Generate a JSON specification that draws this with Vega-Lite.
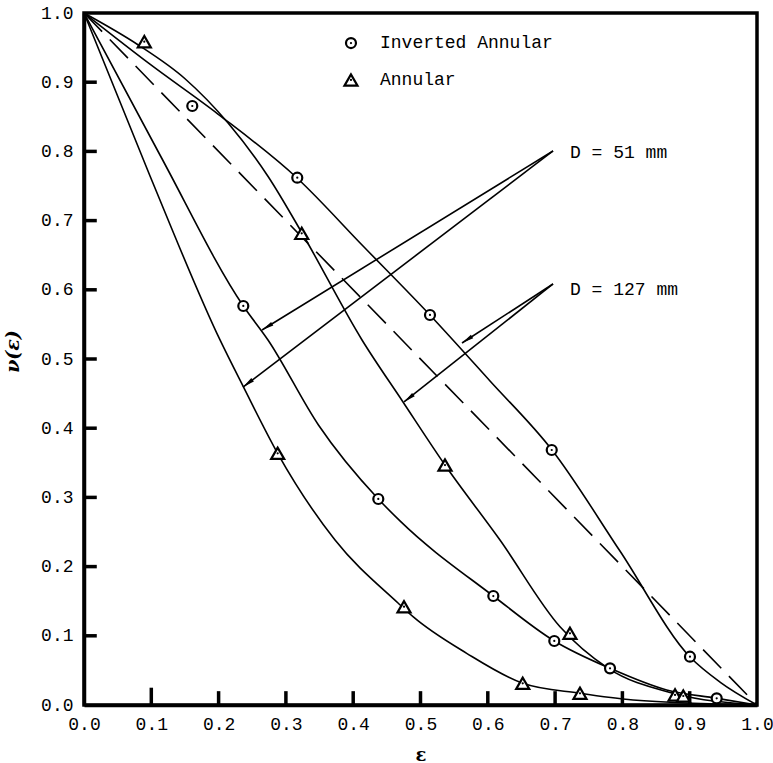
{
  "$schema": "https://vega.github.io/schema/vega-lite/v6.json",
  "width": 673,
  "height": 692,
  "autosize": "none",
  "padding": {"left": 84, "top": 13, "right": 16, "bottom": 58},
  "background": "white",
  "datasets": {
    "curves": [
      {"curve": "A", "x": 0, "y": 1},
      {"curve": "A", "x": 0.098, "y": 0.926},
      {"curve": "A", "x": 0.199, "y": 0.854},
      {"curve": "A", "x": 0.3165, "y": 0.7616},
      {"curve": "A", "x": 0.4146, "y": 0.6633},
      {"curve": "A", "x": 0.514, "y": 0.5636},
      {"curve": "A", "x": 0.6033, "y": 0.4682},
      {"curve": "A", "x": 0.6954, "y": 0.3685},
      {"curve": "A", "x": 0.7964, "y": 0.2225},
      {"curve": "A", "x": 0.9005, "y": 0.0694},
      {"curve": "A", "x": 0.945, "y": 0.0332},
      {"curve": "A", "x": 1, "y": 0},
      {"curve": "B", "x": 0, "y": 1},
      {"curve": "B", "x": 0.0807, "y": 0.9538},
      {"curve": "B", "x": 0.1501, "y": 0.905},
      {"curve": "B", "x": 0.2144, "y": 0.8406},
      {"curve": "B", "x": 0.2738, "y": 0.7634},
      {"curve": "B", "x": 0.3239, "y": 0.6821},
      {"curve": "B", "x": 0.4131, "y": 0.5275},
      {"curve": "B", "x": 0.474, "y": 0.4379},
      {"curve": "B", "x": 0.5364, "y": 0.3468},
      {"curve": "B", "x": 0.6181, "y": 0.2384},
      {"curve": "B", "x": 0.7073, "y": 0.1131},
      {"curve": "B", "x": 0.779, "y": 0.053},
      {"curve": "B", "x": 0.8757, "y": 0.0169},
      {"curve": "B", "x": 1, "y": 0},
      {"curve": "C", "x": 0, "y": 1},
      {"curve": "C", "x": 0.1129, "y": 0.7948},
      {"curve": "C", "x": 0.2367, "y": 0.5766},
      {"curve": "C", "x": 0.2734, "y": 0.5275},
      {"curve": "C", "x": 0.3481, "y": 0.405},
      {"curve": "C", "x": 0.4373, "y": 0.2977},
      {"curve": "C", "x": 0.4695, "y": 0.266},
      {"curve": "C", "x": 0.6082, "y": 0.1575},
      {"curve": "C", "x": 0.6988, "y": 0.0925},
      {"curve": "C", "x": 0.7816, "y": 0.053},
      {"curve": "C", "x": 0.8658, "y": 0.0217},
      {"curve": "C", "x": 0.9401, "y": 0.0097},
      {"curve": "C", "x": 1, "y": 0},
      {"curve": "D", "x": 0, "y": 1},
      {"curve": "D", "x": 0.0981, "y": 0.7645},
      {"curve": "D", "x": 0.2021, "y": 0.5275},
      {"curve": "D", "x": 0.2367, "y": 0.46},
      {"curve": "D", "x": 0.2877, "y": 0.3637},
      {"curve": "D", "x": 0.373, "y": 0.2384},
      {"curve": "D", "x": 0.467, "y": 0.147},
      {"curve": "D", "x": 0.4889, "y": 0.1276},
      {"curve": "D", "x": 0.5686, "y": 0.0747},
      {"curve": "D", "x": 0.6519, "y": 0.0314},
      {"curve": "D", "x": 0.737, "y": 0.0169},
      {"curve": "D", "x": 0.8158, "y": 0.0072},
      {"curve": "D", "x": 1, "y": 0}
    ],
    "markers": [
      {"series": "Inverted Annular", "x": 0.1609, "y": 0.8656},
      {"series": "Inverted Annular", "x": 0.3169, "y": 0.762},
      {"series": "Inverted Annular", "x": 0.5141, "y": 0.5636},
      {"series": "Inverted Annular", "x": 0.695, "y": 0.3685},
      {"series": "Inverted Annular", "x": 0.9004, "y": 0.0698},
      {"series": "Inverted Annular", "x": 0.2367, "y": 0.5766},
      {"series": "Inverted Annular", "x": 0.4373, "y": 0.2977},
      {"series": "Inverted Annular", "x": 0.6082, "y": 0.1575},
      {"series": "Inverted Annular", "x": 0.6988, "y": 0.0925},
      {"series": "Inverted Annular", "x": 0.7816, "y": 0.053},
      {"series": "Inverted Annular", "x": 0.9401, "y": 0.0097},
      {"series": "Annular", "x": 0.0896, "y": 0.9585},
      {"series": "Annular", "x": 0.3235, "y": 0.6816},
      {"series": "Annular", "x": 0.5364, "y": 0.3468},
      {"series": "Annular", "x": 0.7221, "y": 0.1036},
      {"series": "Annular", "x": 0.8782, "y": 0.0145},
      {"series": "Annular", "x": 0.8905, "y": 0.013},
      {"series": "Annular", "x": 0.2878, "y": 0.3637},
      {"series": "Annular", "x": 0.4755, "y": 0.142},
      {"series": "Annular", "x": 0.6519, "y": 0.0314},
      {"series": "Annular", "x": 0.737, "y": 0.0169}
    ],
    "legend": [
      {"series": "Inverted Annular", "x": 0.3967, "y": 0.9566, "tx": 0.4398},
      {"series": "Annular", "x": 0.3967, "y": 0.9032, "tx": 0.4398}
    ],
    "arrows": [
      {"label": "D = 51 mm", "x": 0.6969, "y": 0.8006, "x2": 0.2645, "y2": 0.5419, "hx": 0.2721, "hy": 0.5464, "angle": 238.4},
      {"label": "D = 51 mm", "x": 0.6969, "y": 0.8006, "x2": 0.2363, "y2": 0.4595, "hx": 0.2434, "hy": 0.4647, "angle": 232.7},
      {"label": "D = 127 mm", "x": 0.6969, "y": 0.6084, "x2": 0.5617, "y2": 0.5231, "hx": 0.5691, "hy": 0.5279, "angle": 237},
      {"label": "D = 127 mm", "x": 0.6969, "y": 0.6084, "x2": 0.4755, "y2": 0.4379, "hx": 0.4825, "hy": 0.4432, "angle": 231.6}
    ],
    "labels": [
      {"text": "D = 51 mm", "x": 0.7221, "y": 0.7977},
      {"text": "D = 127 mm", "x": 0.7221, "y": 0.5997}
    ],
    "tickmarks": [
      {"x": 0.1, "x2": 0.1, "y": 0, "y2": 0.025},
      {"x": 0.2, "x2": 0.2, "y": 0, "y2": 0.02},
      {"x": 0.3, "x2": 0.3, "y": 0, "y2": 0.02},
      {"x": 0.4, "x2": 0.4, "y": 0, "y2": 0.02},
      {"x": 0.5, "x2": 0.5, "y": 0, "y2": 0.02},
      {"x": 0.6, "x2": 0.6, "y": 0, "y2": 0.02},
      {"x": 0.7, "x2": 0.7, "y": 0, "y2": 0.02},
      {"x": 0.8, "x2": 0.8, "y": 0, "y2": 0.02},
      {"x": 0.9, "x2": 0.9, "y": 0, "y2": 0.02},
      {"y": 0.1, "y2": 0.1, "x": 0, "x2": 0.019},
      {"y": 0.2, "y2": 0.2, "x": 0, "x2": 0.019},
      {"y": 0.3, "y2": 0.3, "x": 0, "x2": 0.019},
      {"y": 0.4, "y2": 0.4, "x": 0, "x2": 0.019},
      {"y": 0.5, "y2": 0.5, "x": 0, "x2": 0.019},
      {"y": 0.6, "y2": 0.6, "x": 0, "x2": 0.019},
      {"y": 0.7, "y2": 0.7, "x": 0, "x2": 0.019},
      {"y": 0.8, "y2": 0.8, "x": 0, "x2": 0.019},
      {"y": 0.9, "y2": 0.9, "x": 0, "x2": 0.019}
    ]
  },
  "encoding": {
    "x": {
      "field": "x", "type": "quantitative",
      "scale": {"domain": [0, 1], "nice": false, "zero": false},
      "axis": {
        "values": [0, 0.1, 0.2, 0.3, 0.4, 0.5, 0.6, 0.7, 0.8, 0.9, 1.0],
        "format": ".1f",
        "title": "ε",
        "titleY": 55,
        "titleBaseline": "alphabetic",
        "titleAlign": "center",
        "titleFont": "DejaVu Serif",
        "titleFontSize": 18,
        "titleFontWeight": "bold",
        "labelPadding": 10
      }
    },
    "y": {
      "field": "y", "type": "quantitative",
      "scale": {"domain": [0, 1], "nice": false, "zero": false},
      "axis": {
        "values": [0, 0.1, 0.2, 0.3, 0.4, 0.5, 0.6, 0.7, 0.8, 0.9, 1.0],
        "format": ".1f",
        "title": "ν(ε)",
        "titleX": -72,
        "titleY": 338,
        "titleAngle": -90,
        "titleAlign": "center",
        "titleBaseline": "middle",
        "titleFont": "DejaVu Serif",
        "titleFontSize": 19,
        "titleFontWeight": "bold",
        "titleFontStyle": "italic",
        "labelPadding": 11
      }
    }
  },
  "layer": [
    {
      "data": {"values": [{"x": 0, "y": 1}, {"x": 1, "y": 0}]},
      "mark": {"type": "line", "color": "black", "strokeWidth": 1.6, "strokeDash": [26, 11]}
    },
    {
      "data": {"name": "curves"},
      "mark": {"type": "line", "interpolate": "monotone", "color": "black", "strokeWidth": 1.6},
      "encoding": {"detail": {"field": "curve", "type": "nominal"}}
    },
    {
      "data": {"name": "arrows"},
      "mark": {"type": "rule", "color": "black", "strokeWidth": 1.6},
      "encoding": {"x2": {"field": "x2"}, "y2": {"field": "y2"}}
    },
    {
      "data": {"name": "tickmarks"},
      "mark": {"type": "rule", "color": "black", "strokeWidth": 3.5},
      "encoding": {
        "x": {"field": "x", "type": "quantitative"},
        "y": {"field": "y", "type": "quantitative"},
        "x2": {"field": "x2"},
        "y2": {"field": "y2"}
      }
    },
    {
      "data": {"name": "arrows"},
      "mark": {"type": "point", "filled": true, "color": "black", "opacity": 1, "size": 144, "shape": "M0,-1L-0.35,1L0.35,1Z"},
      "encoding": {
        "x": {"field": "hx", "type": "quantitative"},
        "y": {"field": "hy", "type": "quantitative"},
        "angle": {"field": "angle", "type": "quantitative", "scale": null}
      }
    },
    {
      "data": {"name": "markers"},
      "transform": [{"filter": "datum.series === 'Inverted Annular'"}],
      "mark": {"type": "point", "shape": "circle", "filled": true, "fill": "white", "stroke": "black", "strokeWidth": 2.2, "size": 100, "opacity": 1}
    },
    {
      "data": {"name": "markers"},
      "transform": [{"filter": "datum.series === 'Annular'"}],
      "mark": {"type": "point", "shape": "triangle-up", "filled": true, "fill": "white", "stroke": "black", "strokeWidth": 2.2, "size": 170, "opacity": 1}
    },
    {
      "data": {"name": "markers"},
      "mark": {"type": "point", "shape": "circle", "filled": true, "color": "black", "size": 5, "opacity": 1}
    },
    {
      "data": {"name": "legend"},
      "transform": [{"filter": "datum.series === 'Inverted Annular'"}],
      "mark": {"type": "point", "shape": "circle", "filled": true, "fill": "white", "stroke": "black", "strokeWidth": 2.2, "size": 100, "opacity": 1}
    },
    {
      "data": {"name": "legend"},
      "transform": [{"filter": "datum.series === 'Annular'"}],
      "mark": {"type": "point", "shape": "triangle-up", "filled": true, "fill": "white", "stroke": "black", "strokeWidth": 2.2, "size": 170, "opacity": 1}
    },
    {
      "data": {"name": "legend"},
      "mark": {"type": "point", "shape": "circle", "filled": true, "color": "black", "size": 5, "opacity": 1}
    },
    {
      "data": {"name": "legend"},
      "mark": {"type": "text", "align": "left", "baseline": "middle", "font": "Liberation Mono", "fontSize": 18, "color": "black"},
      "encoding": {
        "x": {"field": "tx", "type": "quantitative"},
        "text": {"field": "series"}
      }
    },
    {
      "data": {"name": "labels"},
      "mark": {"type": "text", "align": "left", "baseline": "middle", "font": "Liberation Mono", "fontSize": 18, "color": "black"},
      "encoding": {"text": {"field": "text"}}
    }
  ],
  "config": {
    "view": {"stroke": "black", "strokeWidth": 3.5},
    "axis": {
      "grid": false,
      "ticks": false,
      "domainColor": "black",
      "domainWidth": 3.5,
      "labelFont": "Liberation Mono",
      "labelFontSize": 18,
      "labelColor": "black",
      "titleColor": "black",
      "labelFlush": false,
      "labelOverlap": false
    }
  }
}
